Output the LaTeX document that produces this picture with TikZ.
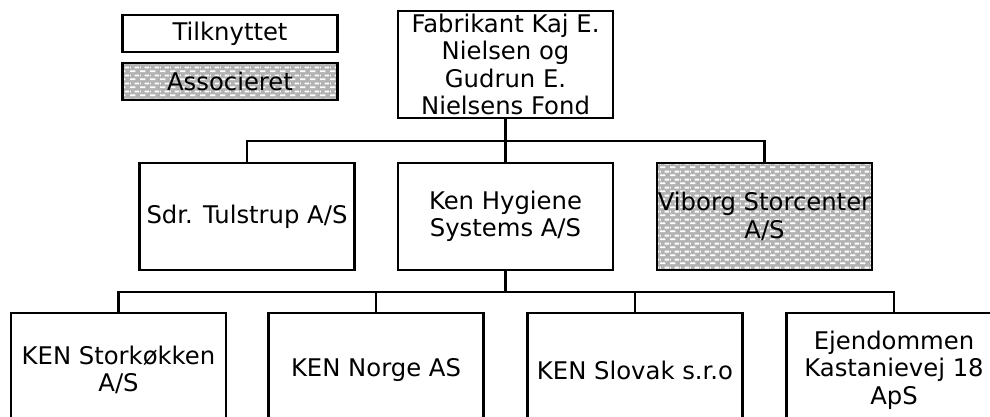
\documentclass[tikz,border=0pt]{standalone}
\usepackage{fontspec}
\setmainfont{DejaVu Sans}
\usepackage{tikz}
\usetikzlibrary{patterns}

\pgfdeclarepatternformonly{whitebricks}{\pgfqpoint{0pt}{0pt}}{\pgfqpoint{10pt}{8pt}}{\pgfqpoint{10pt}{8pt}}{%
	\pgfpathrectangle{\pgfqpoint{0pt}{1pt}}{\pgfqpoint{6pt}{2pt}}%
	\pgfpathrectangle{\pgfqpoint{5pt}{5pt}}{\pgfqpoint{5pt}{2pt}}%
	\pgfpathrectangle{\pgfqpoint{0pt}{5pt}}{\pgfqpoint{1pt}{2pt}}%
	\pgfusepath{fill}}

\begin{document}
\begin{tikzpicture}[x=1pt,y=-1pt,
	box/.style={draw,line width=2.2pt,fill=white,minimum width=215pt,minimum height=107pt,
		inner sep=0pt,align=center,font=\fontsize{24.3}{27.5}\selectfont},
	legendbox/.style={box,minimum height=37pt},
	lowbox/.style={box,minimum height=114pt},
	assoc/.style={fill=gray!60,postaction={pattern=whitebricks,pattern color=white,draw}},
	link/.style={line width=2.2pt}]
			\useasboundingbox (0,0) rectangle (990,417);
			\clip (0,0) rectangle (990,417);
			
			\coordinate (bar1) at (505.5,141);
			\coordinate (bar2) at (505.5,292);
			
			% forklaring
			\node[legendbox] (tilk) at (230,33.5) {Tilknyttet};
			\node[legendbox,assoc] (asso) at (230,81.5) {Associeret};
			
			\node[box] (fond) at (505.5,64.5) {Fabrikant Kaj E.\\Nielsen og\\Gudrun E.\\Nielsens Fond};
			
			\node[box] (sdr) at (247,216.5) {Sdr. Tulstrup A/S};
			\node[box] (ken) at (505.5,216.5) {Ken Hygiene\\Systems A/S};
			\node[box,assoc] (vib) at (764.5,216.5) {Viborg Storcenter\\A/S};
			
			\node[lowbox] (stor) at (118.5,370) {KEN Storkøkken\\A/S};
			\node[lowbox] (norge) at (376,370) {KEN Norge AS};
			\node[lowbox] (slov) at (635,370) {KEN Slovak s.r.o};
			\node[lowbox] (ejd) at (894,370) {Ejendommen\\Kastanievej 18\\ApS};
			
			\draw[link] (fond) -- (ken);
			\draw[link] (sdr.north) |- (bar1) -| (vib.north);
			
			\draw[link] (ken) -- (bar2);
			\draw[link] (stor.north) |- (bar2) -| (ejd.north);
			\draw[link] (norge.north) -- (norge.north |- bar2);
			\draw[link] (slov.north) -- (slov.north |- bar2);
		\end{tikzpicture}
\end{document}
